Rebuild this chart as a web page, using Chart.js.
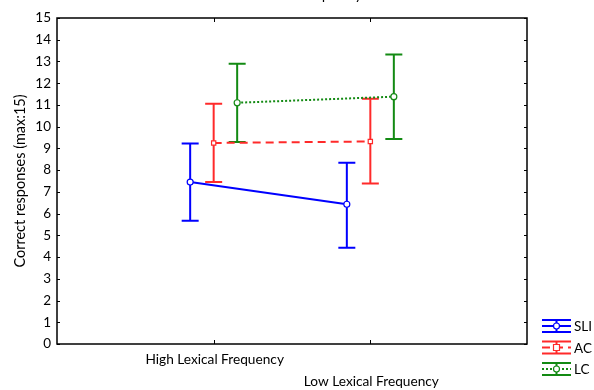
<!DOCTYPE html>
<html>
<head>
<meta charset="utf-8">
<script src="https://cdn.jsdelivr.net/npm/chart.js@4.4.1/dist/chart.umd.min.js"></script>
<style>
  html,body{margin:0;padding:0;background:#fff;}
  #wrap{width:594px;height:390px;}
</style>
</head>
<body>
<div id="wrap"><canvas id="chart" width="594" height="390"></canvas></div>
<script>
// Dados
const categories = ['High Lexical Frequency', 'Low Lexical Frequency'];
const seriesNames = ['SLI', 'AC', 'LC'];
const sliMean = [7.45, 6.43];
const sliLow  = [5.67, 4.43];
const sliHigh = [9.22, 8.34];
const acMean  = [9.25, 9.32];
const acLow   = [7.45, 7.38];
const acHigh  = [11.05, 11.29];
const lcMean  = [11.1, 11.38];
const lcLow   = [9.3, 9.43];
const lcHigh  = [12.9, 13.32];
const yTicks  = [0,1,2,3,4,5,6,7,8,9,10,11,12,13,14,15];
const offsets = [-0.15, 0, 0.15];

const FONT = 'Lato, "Open Sans", sans-serif';
const colors = ['#0000ff', '#ff2a2a', '#138a13'];
const dashes = [[], [8, 5], [2, 2]];
const markers = ['circle', 'rect', 'circle'];
const means = [sliMean, acMean, lcMean];
const lows  = [sliLow, acLow, lcLow];
const highs = [sliHigh, acHigh, lcHigh];

const datasets = seriesNames.map((name, s) => ({
  label: name,
  data: means[s].map((v, i) => ({x: i + 1 + offsets[s], y: v})),
  borderColor: colors[s],
  borderWidth: 2,
  borderDash: dashes[s],
  pointStyle: markers[s],
  pointRadius: 3,
  pointBorderWidth: 1.2,
  pointBackgroundColor: '#fff',
  pointBorderColor: colors[s],
  tension: 0,
  fill: false
}));

// desenha barras de erro, caixa, ticks, rótulos e legenda
const extras = {
  id: 'extras',
  beforeDatasetsDraw(chart) {
    const ctx = chart.ctx, x = chart.scales.x, y = chart.scales.y;
    ctx.save();
    seriesNames.forEach((n, s) => {
      ctx.strokeStyle = colors[s];
      ctx.lineWidth = 2;
      means[s].forEach((m, i) => {
        const px = x.getPixelForValue(i + 1 + offsets[s]);
        const top = y.getPixelForValue(highs[s][i]);
        const bot = y.getPixelForValue(lows[s][i]);
        ctx.beginPath();
        ctx.moveTo(px, top); ctx.lineTo(px, bot);
        ctx.moveTo(px - 8.5, top); ctx.lineTo(px + 8.5, top);
        ctx.moveTo(px - 8.5, bot); ctx.lineTo(px + 8.5, bot);
        ctx.stroke();
      });
    });
    ctx.restore();
  },
  afterDraw(chart) {
    const ctx = chart.ctx, a = chart.chartArea, x = chart.scales.x, y = chart.scales.y;
    ctx.save();
    // caixa
    ctx.strokeStyle = '#000';
    ctx.lineWidth = 1.5;
    ctx.strokeRect(a.left, a.top, a.right - a.left, a.bottom - a.top);
    // ticks para dentro
    ctx.lineWidth = 1;
    ctx.beginPath();
    yTicks.forEach(t => {
      const py = Math.round(y.getPixelForValue(t)) + 0.5;
      ctx.moveTo(a.left, py); ctx.lineTo(a.left + 3, py);
      ctx.moveTo(a.right, py); ctx.lineTo(a.right - 3, py);
    });
    categories.forEach((c, i) => {
      const px = Math.round(x.getPixelForValue(i + 1)) + 0.5;
      ctx.moveTo(px, a.bottom); ctx.lineTo(px, a.bottom - 4);
      ctx.moveTo(px, a.top); ctx.lineTo(px, a.top + 4);
    });
    ctx.stroke();
    // rótulos do eixo x (escalonados)
    ctx.fillStyle = '#000';
    ctx.font = '13.7px ' + FONT;
    ctx.textAlign = 'center';
    ctx.textBaseline = 'middle';
    categories.forEach((c, i) => {
      ctx.fillText(c, x.getPixelForValue(i + 1) + 1, a.bottom + 16 + i * 22);
    });
    // título do eixo y
    ctx.save();
    ctx.translate(20, (a.top + a.bottom) / 2);
    ctx.rotate(-Math.PI / 2);
    ctx.font = '14.5px ' + FONT;
    ctx.fillText('Correct responses (max:15)', 0, 0);
    ctx.restore();
    // título cortado no topo
    ctx.textAlign = 'right';
    ctx.textBaseline = 'alphabetic';
    ctx.font = '14px ' + FONT;
    ctx.fillText('Lexical Frequency', 362, 0);
    // legenda
    seriesNames.forEach((n, s) => {
      const cy = 326 + s * 21.5, x0 = 542, x1 = 571, cx = (x0 + x1) / 2;
      ctx.strokeStyle = colors[s];
      ctx.lineWidth = 2;
      ctx.setLineDash([]);
      ctx.beginPath();
      ctx.moveTo(x0, cy - 6); ctx.lineTo(x1, cy - 6);
      ctx.moveTo(x0, cy + 6); ctx.lineTo(x1, cy + 6);
      ctx.moveTo(cx, cy - 6); ctx.lineTo(cx, cy + 6);
      ctx.stroke();
      ctx.setLineDash(dashes[s]);
      ctx.beginPath();
      ctx.moveTo(x0, cy); ctx.lineTo(x1, cy);
      ctx.stroke();
      ctx.setLineDash([]);
      ctx.fillStyle = '#fff';
      ctx.lineWidth = 1.2;
      ctx.beginPath();
      if (markers[s] === 'rect') ctx.rect(cx - 3, cy - 3, 6, 6);
      else ctx.arc(cx, cy, 3, 0, Math.PI * 2);
      ctx.fill(); ctx.stroke();
      ctx.fillStyle = '#000';
      ctx.font = '13.5px ' + FONT;
      ctx.textAlign = 'left';
      ctx.textBaseline = 'middle';
      ctx.fillText(n, x1 + 3, cy + 1);
    });
    ctx.restore();
  }
};

new Chart(document.getElementById('chart'), {
  type: 'line',
  data: { datasets: datasets },
  options: {
    responsive: false,
    animation: false,
    layout: { padding: { left: 0, top: 18, right: 67, bottom: 0 } },
    plugins: { legend: { display: false }, tooltip: { enabled: false } },
    scales: {
      x: {
        type: 'linear', min: 0, max: 3,
        grid: { display: false, drawTicks: false },
        border: { display: false },
        ticks: { display: false },
        afterFit: s => { s.height = 46; }
      },
      y: {
        min: 0, max: 15,
        afterBuildTicks: s => { s.ticks = yTicks.map(v => ({value: v})); },
        grid: { display: false, drawTicks: false },
        border: { display: false },
        ticks: { color: '#000', font: { family: FONT, size: 13.5 }, padding: 6 },
        afterFit: s => { s.width = 57; }
      }
    }
  },
  plugins: [extras]
});
</script>
</body>
</html>
